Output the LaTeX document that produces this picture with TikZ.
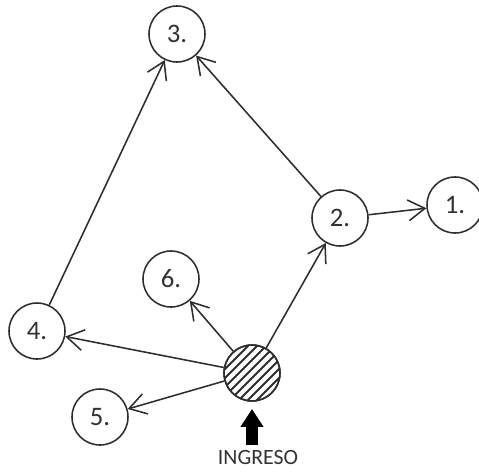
\documentclass[tikz,border=0pt]{standalone}
\usepackage{fontspec}
\setmainfont{Carlito}
\usetikzlibrary{arrows.meta}
\definecolor{lineDark}{RGB}{45, 45, 45}
\definecolor{textDark}{RGB}{50, 50, 50}

\begin{document}
\begin{tikzpicture}[
    x=0.025cm, y=-0.025cm,
    stage/.style={circle, draw=lineDark, text=textDark, fill=white, minimum size=1.4cm, inner sep=0pt, line width=1.1pt, font=\fontsize{19}{22}\selectfont},
    flow/.style={-{Straight Barb[length=0.42cm, width=0.52cm]}, line width=1.1pt, draw=lineDark},
    hatch/.style={line width=1.3pt, draw=lineDark}
  ]
    \useasboundingbox (0,0) rectangle (479,474);

    % Stage Nodes
    \node[stage] (s3) at (177,34) {3.};
    \node[stage] (s2) at (340,218) {2.};
    \node[stage] (s1) at (455,205) {1.};
    \node[stage] (s6) at (171,279) {6.};
    \node[stage] (s4) at (37,331) {4.};
    \node[stage] (s5) at (100,417) {5.};

    % Entry Node (hatched)
    \node[stage] (entry) at (252,373) {};
    \begin{scope}
      \clip (entry.center) circle[radius=0.7cm];
      \foreach \d in {-76,-67,...,76}
        \draw[hatch] (252+\d-40,373+40) -- ++(80,-80);
    \end{scope}
    \draw[line width=1.1pt, draw=lineDark] (entry.center) circle[radius=0.7cm];

    \node[font=\fontsize{15.5}{18}\selectfont, text=textDark, inner sep=0pt] (ingreso) at (258,457) {INGRESO};

    % Connectors
    \draw[flow] (entry) -- (s2);
    \draw[flow] (entry) -- (s6);
    \draw[flow] (entry) -- (s4);
    \draw[flow] (entry) -- (s5);
    \draw[flow] (s2) -- (s1);
    \draw[flow] (s2) -- (s3);
    \draw[flow] (s4) -- (s3);
    \draw[line width=0.3cm, -{Triangle[length=0.45cm, width=0.55cm]}, shorten <=0.12cm, shorten >=0.18cm] (entry.south |- ingreso.north) -- (entry.south);
  \end{tikzpicture}
\end{document}
